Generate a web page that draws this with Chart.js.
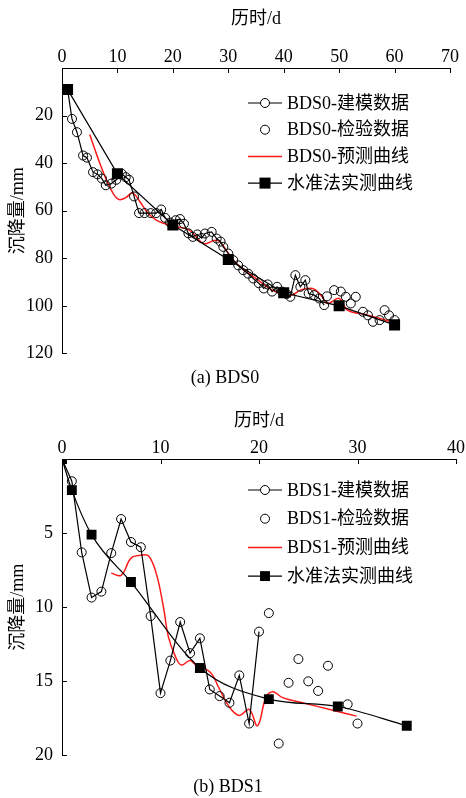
<!DOCTYPE html>
<html>
<head>
<meta charset="utf-8">
<script src="https://cdn.jsdelivr.net/npm/chart.js@4.4.0/dist/chart.umd.min.js"></script>
<style>
  body { margin: 0; background: #fff; }
  .box { position: relative; width: 466px; }
</style>
</head>
<body>
<div class="box" style="height:400px"><canvas id="bds0"></canvas></div>
<div class="box" style="height:398px"><canvas id="bds1"></canvas></div>
<script>
// ---- BDS0 ----
const bds0ModelDays = [1, 1.8, 2.7, 3.8, 4.5, 5.6, 6.4, 7.2, 7.9, 8.9, 9.8, 10.8, 11.5, 12.1, 13, 13.9, 14.9, 16, 17, 17.9,
  18.6, 19.5, 20.5, 21.3, 22, 22.8, 23.6, 24.4, 25.2, 25.8, 27, 27.9, 28.6, 29.1, 30, 30.9, 31.8, 32.7, 33.6, 34.5,
  35.5, 36.4, 37.1, 37.9, 38.8, 39.7, 40.5, 41.2, 42.1, 43, 43.9, 44.5, 45.5, 46.4, 47.3];
const bds0ModelValues = [9, 21.4, 27, 36.8, 37.7, 43.8, 44.7, 46.5, 49.3, 48.6, 47, 44.5, 45.9, 47, 54, 61, 61, 61, 61, 59.5,
  63, 65, 64, 63.5, 65.5, 69.5, 71, 70, 71.5, 69.6, 68.9, 71.7, 73, 75.2, 78, 80.8, 83, 85, 86.5, 88.5,
  90.5, 92.7, 91, 94, 92, 94, 95, 96.2, 87.1, 92, 89.2, 94.8, 95.5, 96.9, 99.7];
const bds0TestDays = [47.8, 49.1, 50.3, 51.2, 52.1, 53, 54.3, 55.2, 56.1, 57.3, 58.2, 59, 60];
const bds0TestValues = [96, 93.4, 94, 96.2, 99, 96.2, 102.5, 104, 106.7, 106, 101.8, 104, 106];
const bds0PredDays = [5, 6.5, 8, 9.3, 10.3, 11.5, 12.7, 14, 15.5, 17, 18.5, 20, 23, 25.5, 27.5, 28.5, 30.9, 33.3, 35.8,
  37.6, 39.4, 41.5, 43, 45.2, 46.7, 47.9, 50, 51.5, 55.2, 59.4];
const bds0PredValues = [28, 38, 47, 53, 55.3, 54.5, 52.6, 56, 61, 64, 65.4, 66.5, 68.2, 73.8, 72.5, 73.1, 80.8, 85.7, 89.9,
  93, 94.8, 95.5, 93.4, 92.7, 95.5, 99, 96.9, 101.8, 103.9, 106.7];
const bds0LevelDays = [1, 10, 20, 30, 40, 50, 60];
const bds0LevelValues = [9, 44.5, 66, 80.5, 94.5, 100, 108];

// ---- BDS1 ----
const bds1ModelDays = [0, 1, 2, 3, 4, 5, 6, 7, 8, 9, 10, 11, 12, 13, 14, 15, 16, 17, 18, 19, 20];
const bds1ModelValues = [0, 1.5, 6.3, 9.35, 8.95, 6.35, 4.05, 5.6, 5.95, 10.6, 15.8, 13.6, 11, 13.1, 12.1, 15.55, 16, 16.45, 14.6, 17.85, 11.65];
const bds1TestDays = [21, 22, 23, 24, 25, 26, 27, 29, 30];
const bds1TestValues = [10.4, 19.2, 15.1, 13.5, 15, 15.65, 13.95, 16.55, 17.85];
const bds1PredDays = [5, 6, 7, 8, 8.8, 9.6, 10.3, 10.8, 11.5, 12.1, 13, 13.6, 14.4, 15.2, 15.9, 17, 18, 19, 19.85,
  20.7, 21.4, 22.4, 24.1, 27.5, 29.9];
const bds1PredValues = [7.7, 7.85, 6.7, 6.5, 6.55, 7.8, 10, 12, 13.3, 13.9, 13.6, 13.9, 14.1, 14.5, 15.4, 16.75, 17.3, 16.9, 18,
  16.1, 15.7, 16.1, 16.4, 16.95, 17.35];
const bds1LevelDays = [0, 1, 3, 7, 14, 21, 28, 35];
const bds1LevelValues = [0, 2.1, 5.1, 8.3, 14.1, 16.2, 16.7, 18];

const pts = (xs, ys) => xs.map((x, i) => ({ x: x, y: ys[i] }));

Chart.defaults.font.family = '"Liberation Serif", "Noto Sans CJK SC", serif';
Chart.defaults.font.size = 18;
Chart.defaults.color = '#000';

// short ticks pointing into the plot
const inwardTicks = {
  id: 'inwardTicks',
  afterDraw(chart) {
    const ctx = chart.ctx, xs = chart.scales.x, ys = chart.scales.y;
    ctx.save();
    ctx.strokeStyle = '#000';
    ctx.lineWidth = 1;
    ctx.beginPath();
    xs.ticks.forEach((t, i) => {
      const px = Math.round(xs.getPixelForTick(i)) + 0.5;
      ctx.moveTo(px, xs.bottom);
      ctx.lineTo(px, xs.bottom + 5);
    });
    ys.ticks.forEach((t, i) => {
      const py = Math.round(ys.getPixelForTick(i)) + 0.5;
      ctx.moveTo(ys.right, py);
      ctx.lineTo(ys.right + 5, py);
    });
    ctx.stroke();
    ctx.restore();
  }
};

// legend drawn inside the plot, line + marker + text
const boxLegend = {
  id: 'boxLegend',
  afterDraw(chart, args, opts) {
    const ctx = chart.ctx;
    ctx.save();
    ctx.font = '18px "Liberation Serif", "Noto Sans CJK SC", serif';
    ctx.textBaseline = 'middle';
    ctx.fillStyle = '#000';
    opts.order.forEach((di, row) => {
      const ds = chart.data.datasets[di];
      const y = opts.y + row * opts.rowH;
      const x0 = opts.x, x1 = opts.x + 34, xm = opts.x + 17;
      if (ds.showLine) {
        ctx.strokeStyle = ds.borderColor;
        ctx.lineWidth = ds.borderWidth;
        ctx.beginPath();
        ctx.moveTo(x0, y);
        ctx.lineTo(x1, y);
        ctx.stroke();
      }
      if (ds.pointRadius > 0) {
        if (ds.pointStyle === 'rect') {
          const s = ds.pointRadius * Math.SQRT1_2;
          ctx.fillStyle = '#000';
          ctx.fillRect(xm - s, y - s, 2 * s, 2 * s);
        } else {
          ctx.strokeStyle = '#000';
          ctx.lineWidth = 1;
          ctx.fillStyle = '#fff';
          ctx.beginPath();
          ctx.arc(xm, y, ds.pointRadius, 0, Math.PI * 2);
          ctx.fill();
          ctx.stroke();
        }
      }
      ctx.fillStyle = '#000';
      ctx.fillText(ds.label, opts.x + 39, y + 1);
    });
    ctx.restore();
  }
};

function makeChart(id, cfg) {
  return new Chart(document.getElementById(id), {
    type: 'scatter',
    data: {
      datasets: [
        { label: '水准法实测曲线', data: cfg.level, showLine: true, borderColor: '#000', backgroundColor: '#000',
          borderWidth: 1.2, pointStyle: 'rect', pointRadius: cfg.sq, pointBorderWidth: 0,
          cubicInterpolationMode: cfg.levelSmooth ? 'monotone' : 'default' },
        { label: cfg.name + '-建模数据', data: cfg.model, showLine: true, borderColor: '#000', backgroundColor: 'rgba(0,0,0,0)',
          borderWidth: 1.2, pointRadius: 4.5, pointBorderWidth: 1, pointBorderColor: '#000' },
        { label: cfg.name + '-检验数据', data: cfg.test, showLine: false, borderColor: '#000', backgroundColor: 'rgba(0,0,0,0)',
          borderWidth: 1, pointRadius: 4.5, pointBorderWidth: 1, pointBorderColor: '#000' },
        { label: cfg.name + '-预测曲线', data: cfg.pred, showLine: true, borderColor: '#ff1a1a', backgroundColor: '#ff1a1a',
          borderWidth: 1.5, pointRadius: 0, tension: 0.4 }
      ]
    },
    options: {
      responsive: true,
      maintainAspectRatio: false,
      animation: false,
      layout: { padding: { left: 0, top: 0, right: cfg.padRight, bottom: 0 } },
      scales: {
        x: {
          type: 'linear', position: 'top', min: 0, max: cfg.xMax,
          ticks: { stepSize: 10, padding: 0, maxRotation: 0 },
          grid: { drawOnChartArea: false, drawTicks: false },
          border: { color: '#000', width: 1 },
          title: { display: true, text: '历时/d', padding: { top: cfg.titleTop, bottom: 0 } },
          afterFit: s => { s.height = cfg.xHeight; }
        },
        y: {
          type: 'linear', reverse: true, min: 0, max: cfg.yMax,
          ticks: { stepSize: cfg.yStep, padding: 9, callback: v => (v === 0 ? '' : v) },
          grid: { drawOnChartArea: false, drawTicks: false },
          border: { color: '#000', width: 1 },
          title: { display: true, text: '沉降量/mm', padding: { top: 7, bottom: 0 } },
          afterFit: s => { s.width = 62; }
        }
      },
      plugins: {
        legend: { display: false },
        tooltip: { enabled: false },
        title: {
          display: true, position: 'bottom', text: cfg.caption,
          font: { size: 18, weight: 'normal' }, padding: { top: cfg.capTop, bottom: cfg.capBottom }
        },
        boxLegend: { x: 248, y: cfg.legY, rowH: cfg.legRow, order: [1, 2, 3, 0] }
      }
    },
    plugins: [inwardTicks, boxLegend]
  });
}

makeChart('bds0', {
  name: 'BDS0', caption: '(a) BDS0',
  level: pts(bds0LevelDays, bds0LevelValues), model: pts(bds0ModelDays, bds0ModelValues),
  test: pts(bds0TestDays, bds0TestValues), pred: pts(bds0PredDays, bds0PredValues),
  xMax: 70, yMax: 120, yStep: 20, sq: 7.8, levelSmooth: false,
  padRight: 16, xHeight: 68, titleTop: 8, capTop: 14, capBottom: 11,
  legY: 103, legRow: 26.7
});

makeChart('bds1', {
  name: 'BDS1', caption: '(b) BDS1',
  level: pts(bds1LevelDays, bds1LevelValues), model: pts(bds1ModelDays, bds1ModelValues),
  test: pts(bds1TestDays, bds1TestValues), pred: pts(bds1PredDays, bds1PredValues),
  xMax: 40, yMax: 20, yStep: 5, sq: 7, levelSmooth: true,
  padRight: 10, xHeight: 59, titleTop: 10, capTop: 21, capBottom: 0,
  legY: 90, legRow: 28.7
});
</script>
</body>
</html>
